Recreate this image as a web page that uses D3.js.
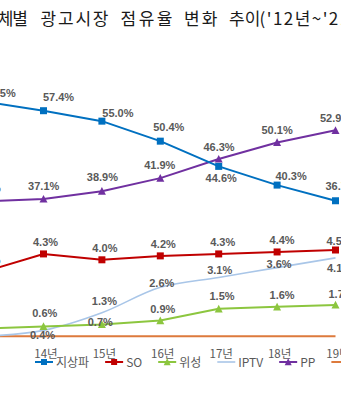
<!DOCTYPE html>
<html><head><meta charset="utf-8">
<script src="https://cdn.jsdelivr.net/npm/d3@7/dist/d3.min.js"></script>
<style>body{margin:0;background:#fff}svg{display:block}</style>
</head><body>
<svg id="c" width="341" height="400"></svg>
<script>
// ---- data ----
const titleWords = ["매체별","광고시장","점유율","변화","추이","('12년~'21년)"];
const categories = ["13년","14년","15년","16년","17년","18년","19년"];
const terrestrial = [59.5, 57.4, 55.0, 50.4, 44.6, 40.3, 36.7];   // 지상파
const so          = [3.4, 4.3, 4.0, 4.2, 4.3, 4.4, 4.5];          // SO
const satellite   = [0.5, 0.6, 0.7, 0.9, 1.5, 1.6, 1.7];          // 위성
const iptv        = [0.1, 0.4, 1.3, 2.6, 3.1, 3.6, 4.1];          // IPTV
const pp          = [36.6, 37.1, 38.9, 41.9, 46.3, 50.1, 52.9];   // PP
const dmb         = [0.1, 0.1, 0.1, 0.1, 0.1, 0.1, 0.1];          // DMB
const seriesNames = ["지상파","SO","위성","IPTV","PP","DMB"];

// ---- layout / label placement (styling) ----
const titleBoxes = [[-17, 45], [40.5, 68], [120.5, 52], [184, 33.5], [229, null], [259.5, 114]];
const nudges = {
  "지상파": [[15,-5],[15,-10],[16,-4],[8.5,-10],[2.5,16],[14,-5],[5.5,-11]],
  "SO":    [[3,-8],[2,-8],[3,-8],[3,-8],[4,-8],[5,-8],[3.5,-5]],
  "위성":   [[0,-9],[1.3,-9],[-1.6,1.5],[2.5,-8],[3.3,-9],[5,-8],[5.5,-7]],
  "IPTV":  [[0,9],[-1,8.6],[2.5,-7.7],[1.5,-0.5],[1,-3.4],[2,0],[4,14]],
  "PP":    [[0,-9],[0.2,-9],[0.5,-10],[-0.5,-8.8],[0.3,-8.3],[0,-8.5],[0,-8.6]]
};

const svg = d3.select("#c");
const x = d3.scalePoint().domain(categories).range([-14.9, 335.5]);
const yMain = d3.scaleLinear().domain([0, 60]).range([360.4, 360.4 - 60*4.35]);
const ySub  = d3.scaleLinear().domain([0, 5]).range([338.2, 338.2 - 5*19.6]);

const series = [
  {name:seriesNames[0], values:terrestrial, y:yMain, color:"#0070C0", w:2,   marker:"square",   curve:d3.curveLinear, labels:true},
  {name:seriesNames[1], values:so,          y:ySub,  color:"#C00000", w:2,   marker:"square",   curve:d3.curveLinear, labels:true},
  {name:seriesNames[2], values:satellite,   y:ySub,  color:"#8CC63F", w:2,   marker:"triangle", curve:d3.curveLinear, labels:true},
  {name:seriesNames[3], values:iptv,        y:ySub,  color:"#A9C6E8", w:1.6, marker:null,       curve:d3.curveCatmullRom, labels:true},
  {name:seriesNames[4], values:pp,          y:yMain, color:"#7030A0", w:2,   marker:"triangle", curve:d3.curveLinear, labels:true},
  {name:seriesNames[5], values:dmb,         y:ySub,  color:"#DD7A3C", w:2,   marker:null,       curve:d3.curveLinear, labels:false}
];

// title (one text element per word so spacing follows the original)
const titleG = svg.append("g")
  .attr("font-family", "'Noto Sans CJK KR', sans-serif")
  .attr("font-size", 17)
  .attr("fill", "#1a1a1a");
titleWords.forEach((w,i) => {
  const t = titleG.append("text").attr("x", titleBoxes[i][0]).attr("y", 24.5).text(w);
  if (titleBoxes[i][1]) t.attr("textLength", titleBoxes[i][1]).attr("lengthAdjust", "spacing");
});

function drawMarker(g, type, cx, cy, color, s) {
  if (type === "square") {
    g.append("rect").attr("x", cx - s/2).attr("y", cy - s/2).attr("width", s).attr("height", s).attr("fill", color);
  } else if (type === "triangle") {
    const h = s * 0.9;
    g.append("path").attr("d", `M${cx},${cy - h/2 - 0.5}L${cx + s/2},${cy + h/2}L${cx - s/2},${cy + h/2}Z`).attr("fill", color);
  }
}

const plot = svg.append("g");
const order = ["DMB","IPTV","위성","SO","PP","지상파"];
order.forEach(nm => {
  const s = series.find(d => d.name === nm);
  const line = d3.line().x((d,i) => x(categories[i])).y(d => s.y(d)).curve(s.curve);
  plot.append("path").attr("d", line(s.values)).attr("fill", "none")
    .attr("stroke", s.color).attr("stroke-width", s.w).attr("stroke-linejoin", "round");
  if (s.marker) s.values.forEach((v,i) => drawMarker(plot, s.marker, x(categories[i]), s.y(v), s.color, s.marker === "square" ? 7 : 8));
});

// data labels
series.filter(s => s.labels).forEach(s => {
  s.values.forEach((v,i) => {
    const n = nudges[s.name][i];
    svg.append("text")
      .attr("x", x(categories[i]) + n[0]).attr("y", s.y(v) + n[1])
      .attr("text-anchor", "middle")
      .attr("font-family", "'Liberation Sans', Arial, sans-serif")
      .attr("font-weight", "bold").attr("font-size", 11)
      .attr("fill", "#595959")
      .text(v.toFixed(1) + "%");
  });
});

// x tick labels
const axisG = svg.append("g");
categories.slice(1).forEach(c => {
  axisG.append("text").attr("x", x(c) + 2.5).attr("y", 357.5)
    .attr("text-anchor", "middle")
    .attr("font-family", "'Noto Sans CJK KR', sans-serif").attr("font-size", 11.5)
    .attr("fill", "#595959").text(c);
});

// legend
let lx = 35;
const ly = 362;
series.forEach(s => {
  const g = svg.append("g");
  g.append("line").attr("x1", lx).attr("x2", lx + 18).attr("y1", ly).attr("y2", ly)
    .attr("stroke", s.color).attr("stroke-width", s.w);
  if (s.marker) drawMarker(g, s.marker, lx + 9, ly, s.color, s.marker === "square" ? 6 : 7);
  const t = g.append("text").attr("x", lx + 21).attr("y", ly + 4.5)
    .attr("font-family", "'Noto Sans CJK KR', sans-serif").attr("font-size", 12)
    .attr("fill", "#595959").text(s.name);
  lx = lx + 21 + t.node().getComputedTextLength() + 16;
});
</script>
</body></html>
